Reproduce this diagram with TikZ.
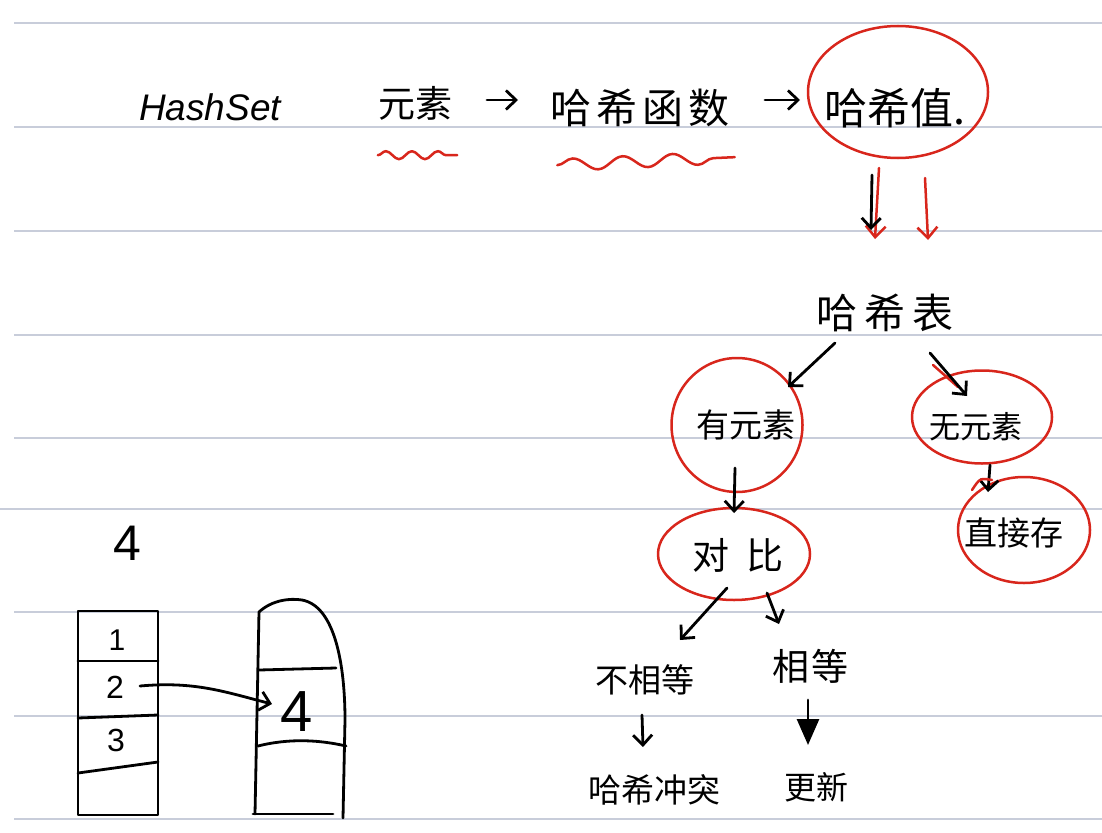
\documentclass[tikz,border=0pt]{standalone}
\usepackage{fontspec}
\setmainfont{Liberation Sans}
\newfontfamily\cjk{Noto Sans CJK SC}
\usetikzlibrary{arrows.meta,shapes.geometric,decorations.pathmorphing,calc}
\definecolor{hred}{HTML}{D8261C}
\definecolor{rulec}{HTML}{C8CDDA}
\begin{document}
\begin{tikzpicture}[x=1pt,y=-1pt,
  pen/.style={line width=2.8pt,line cap=round,line join=round},
  rpen/.style={line width=2.5pt,draw=hred,line cap=round,line join=round},
  arr/.style={pen,-{Straight Barb[length=10pt,width=19pt]}},
  rarr/.style={rpen,-{Straight Barb[length=11pt,width=20pt]}},
  cj/.style={inner sep=0pt,font=\cjk\fontsize{#1}{#1}\selectfont},
  rc/.style={ellipse,draw=hred,line width=2.5pt,inner sep=0pt},
  ruled/.style={draw=rulec,line width=1.4pt},
  squig/.style={rpen,decorate,decoration={snake,amplitude=4pt,segment length=26pt}}]
\fill[white] (0,0) rectangle (1102,832);
\useasboundingbox (0,0) rectangle (1102,832);
% ruled paper
\foreach \yy in {23,127,231,335,438,612,716,819} \draw[ruled] (14,\yy) -- (1102,\yy);
\draw[ruled] (0,509) -- (1102,509);

% top row
\node[font=\itshape\fontsize{37}{37}\selectfont,inner sep=0pt] (hs) at (210,107) {HashSet};
\node[cj=37] (el) at (415,103) {元素};
\node[cj=41] (hf) at (640,108) {哈\hspace{5pt}希\hspace{5pt}函\hspace{5pt}数};
\node[cj=43] (hv) at (895,108) {哈希值.};
\node[rc,minimum width=180pt,minimum height=132pt] (hvc) at (898,92) {};

\draw[squig] ($(el.south west)+(0,35)$) -- ($(el.south east)+(5,35)$);
\draw[squig,decoration={snake,amplitude=6pt,segment length=50pt}] ($(hf.south west)+(7,38)$) -- ($(hf.south east)+(5,30)$);

\draw[arr] ($(el)+(72,-3)$) -- ($(hf)+(-122,-8)$);
\draw[arr] ($(hf)+(125,-8)$) -- ($(hv)+(-95,-8)$);

% hash table
\node[cj=41] (ht) at (885,313) {哈\hspace{7pt}希\hspace{7pt}表};
\draw[rarr] ($(hvc)+(-19,76)$) -- ($(ht)+(-10,-74)$);
\draw[arr] ($(hvc)+(-26,83)$) -- ($(ht)+(-14,-83)$);
\draw[rarr] ($(hvc)+(27,86)$) -- ($(ht)+(43,-73)$);

% has / no element
\node[rc,minimum width=131pt,minimum height=134pt] (hasc) at (737,425) {};
\node[cj=33] (has) at (746,425) {有元素};
\node[rc,minimum width=140pt,minimum height=93pt] (noc) at (982,417) {};
\node[cj=31] (no) at (976,427) {无元素};
\draw[arr] ($(ht)+(-50,30)$) -- ($(hasc)+(51,-38)$);
\draw[rpen] ($(ht)+(48,52)$) -- ($(noc)+(-24,-30)$);
\draw[arr] ($(ht)+(45,40)$) -- ($(noc)+(-15,-21)$);

% compare / store directly
\node[rc,minimum width=152pt,minimum height=92pt] (cmpc) at (734,554) {};
\node[cj=37] (cmp) at (738,555) {对\hspace{18pt}比};
\node[rc,minimum width=132pt,minimum height=106pt] (dirc) at (1024,530) {};
\node[cj=33] (dir) at (1014,533) {直接存};
\draw[arr] ($(hasc)+(-2,43)$) -- ($(cmpc)+(0,-41)$);
\draw[arr] ($(noc)+(8,48)$) -- ($(dirc)+(-36,-38)$);
\draw[rpen] ($(dirc)+(-52,-40)$) .. controls ($(dirc)+(-44,-52)$) .. ($(dirc)+(-32,-50)$);

% equal / not equal
\node[cj=33] (ne) at (645,680) {不相等};
\node[cj=37] (eq) at (810,666) {相\hspace{2pt}等};
\draw[arr] ($(cmpc)+(-7,34)$) -- ($(ne)+(35,-40)$);
\draw[arr] ($(cmpc)+(33,39)$) -- ($(eq)+(-31,-42)$);

\node[cj=33] (coll) at (654,790) {哈希冲突};
\node[cj=32] (upd) at (816,787) {更新};
\draw[arr] ($(ne)+(-3,35)$) -- ($(coll)+(-11,-43)$);
\draw[pen,-{Triangle[length=26pt,width=22pt]}] ($(eq)+(-2,34)$) -- ($(upd)+(-8,-42)$);

% left: table and bucket
\node[font=\fontsize{50}{50}\selectfont,inner sep=0pt] (n4) at (127,543) {4};
\draw[pen] (78,611) rectangle (158,815);
\draw[pen] (78,661) -- (158,661);
\draw[pen] (78,718) -- (158,715);
\draw[pen] (78,773) -- (158,762);
\node[font=\fontsize{30}{30}\selectfont,inner sep=0pt] (n1) at (117,640) {1};
\node[font=\fontsize{32}{32}\selectfont,inner sep=0pt] (n2) at (115,687) {2};
\node[font=\fontsize{32}{32}\selectfont,inner sep=0pt] (n3) at (116,740) {3};

\draw[pen] (255,814) -- (259,612) .. controls (272,600) and (290,598) .. (302,600)
  .. controls (335,606) and (345,665) .. (345,720) -- (343,818);
\draw[pen] (253,814) -- (333,814);
\draw[pen] (259,670) -- (336,668);
\draw[pen] (258,746) .. controls (290,738) and (320,740) .. (346,746);
\node[font=\fontsize{58}{58}\selectfont,inner sep=0pt] (b4) at (297,712) {4};
\draw[arr] ($(n2)+(25,-1)$) .. controls ($(n2)+(80,-6)$) and ($(n2)+(110,5)$) .. ($(b4)+(-25,-8)$);
\end{tikzpicture}
\end{document}
